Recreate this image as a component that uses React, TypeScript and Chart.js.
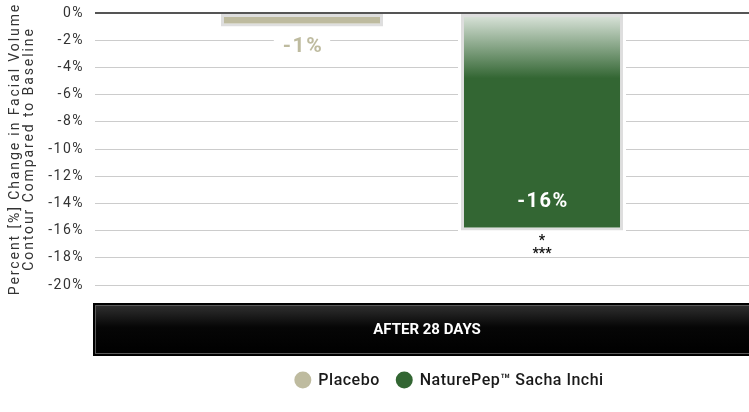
import React, { useEffect, useRef } from "react";
import { Chart, registerables } from "chart.js";

Chart.register(...registerables);

// ---- data ----
const categories = ["AFTER 28 DAYS"];
const seriesNames = ["Placebo", "NaturePep™ Sacha Inchi"];
const placeboValues = [-1];
const naturePepValues = [-16];
const valueLabels = ["-1%", "-16%"];
const significanceMarks = ["*", "***"];
const yMin = -20;
const yMax = 0;
const yStep = 2;
const yTitle = ["Percent [%] Change in Facial Volume", "Contour Compared to Baseline"];

// ---- style ----
const PLACEBO = "#bebb9f";
const GREEN = "#336633";
const GREEN_LIGHT = "#e0e8e0";
const BAR_BORDER = "#dedede";
const FONT = "Roboto, 'Noto Sans', sans-serif";

const setSpacing = (ctx: any, v: string) => {
  if ("letterSpacing" in ctx) ctx.letterSpacing = v;
};

const customPlugin = {
  id: "customDraw",
  beforeDraw(chart: any) {
    setSpacing(chart.ctx, "1.5px");
  },
  beforeDatasetsDraw(chart: any) {
    const ctx = chart.ctx;
    ctx.save();
    ctx.fillStyle = "#ffffff";
    chart.data.datasets.forEach((_: any, i: number) => {
      chart.getDatasetMeta(i).data.forEach((bar: any) => {
        const top = Math.min(bar.y, bar.base);
        const bot = Math.max(bar.y, bar.base);
        ctx.fillRect(bar.x - bar.width / 2 - 3, top + 1, bar.width + 6, bot - top + 2);
      });
    });
    ctx.restore();
  },
  afterDatasetsDraw(chart: any) {
    const ctx = chart.ctx;
    const b0 = chart.getDatasetMeta(0).data[0];
    const b1 = chart.getDatasetMeta(1).data[0];
    ctx.save();
    setSpacing(ctx, "1.5px");
    // placebo label below bar
    ctx.font = `bold 21px ${FONT}`;
    ctx.textAlign = "center";
    ctx.textBaseline = "middle";
    const w0 = ctx.measureText(valueLabels[0]).width;
    ctx.fillStyle = "#ffffff";
    ctx.fillRect(b0.x - w0 / 2 - 8, b0.y + 9, w0 + 16, 20);
    ctx.fillStyle = PLACEBO;
    ctx.fillText(valueLabels[0], b0.x + 1, b0.y + 20);
    // green label inside bar
    ctx.fillStyle = "#ffffff";
    ctx.font = `bold 20px ${FONT}`;
    ctx.fillText(valueLabels[1], b1.x + 1, b1.y - 29);
    // significance marks
    setSpacing(ctx, "0px");
    ctx.fillStyle = "#111111";
    ctx.font = `bold 14px ${FONT}`;
    ctx.textBaseline = "alphabetic";
    significanceMarks.forEach((s, i) => {
      ctx.fillText(s, b1.x, b1.y + 14 + i * 13);
    });
    ctx.restore();
  },
  afterDraw(chart: any) {
    const ctx = chart.ctx;
    const area = chart.chartArea;
    ctx.save();
    setSpacing(ctx, "0px");

    // y axis title (two rotated lines)
    ctx.save();
    setSpacing(ctx, "1.9px");
    ctx.font = `14px ${FONT}`;
    ctx.fillStyle = "#333333";
    ctx.textAlign = "center";
    ctx.textBaseline = "middle";
    ctx.translate(15, (area.top + area.bottom) / 2);
    ctx.rotate(-Math.PI / 2);
    yTitle.forEach((line, i) => {
      ctx.fillText(line, 0, i * 14);
    });
    ctx.restore();

    // category band
    const x0 = area.left - 2;
    const x1 = chart.width + 12;
    const y0 = area.bottom + 18;
    const h = 53;
    ctx.fillStyle = "#000000";
    ctx.fillRect(x0, y0, x1 - x0, h);
    const g = ctx.createLinearGradient(0, y0 + 3, 0, y0 + h - 3);
    g.addColorStop(0, "#2e2e2e");
    g.addColorStop(0.45, "#060606");
    g.addColorStop(1, "#000000");
    ctx.fillStyle = g;
    ctx.fillRect(x0 + 3, y0 + 3, x1 - x0 - 6, h - 6);
    ctx.strokeStyle = "#5a5a5a";
    ctx.lineWidth = 1;
    ctx.strokeRect(x0 + 2.5, y0 + 2.5, x1 - x0 - 5, h - 5);
    ctx.fillStyle = "#ffffff";
    ctx.font = `bold 15px ${FONT}`;
    ctx.textAlign = "center";
    ctx.textBaseline = "middle";
    ctx.fillText(chart.data.labels[0], (x0 + x1) / 2, y0 + h / 2 + 1);

    // legend
    const legendY = 380;
    const r = 8.5;
    const gapCircleText = 7;
    const gapItems = 16;
    setSpacing(ctx, "0.5px");
    ctx.font = `500 16px ${FONT}`;
    const items = chart.data.datasets.map((ds: any, i: number) => ({
      label: ds.label,
      color: i === 0 ? PLACEBO : GREEN,
      w: ctx.measureText(ds.label).width,
    }));
    const total =
      items.reduce((s: number, it: any) => s + 2 * r + gapCircleText + it.w, 0) +
      gapItems * (items.length - 1);
    let x = 449 - total / 2;
    ctx.textAlign = "left";
    items.forEach((it: any) => {
      ctx.beginPath();
      ctx.arc(x + r, legendY, r, 0, Math.PI * 2);
      ctx.fillStyle = it.color;
      ctx.fill();
      ctx.fillStyle = "#1a1a1a";
      ctx.fillText(it.label, x + 2 * r + gapCircleText, legendY + 1);
      x += 2 * r + gapCircleText + it.w + gapItems;
    });
    ctx.restore();
    setSpacing(ctx, "0px");
  },
};

export default function App() {
  const canvasRef = useRef<HTMLCanvasElement | null>(null);

  useEffect(() => {
    document.body.style.margin = "0";
    const canvas = canvasRef.current;
    if (!canvas) return;
    const greenFill = (c: any) => {
      const chart = c.chart;
      const y = chart.scales && chart.scales.y;
      if (!chart.chartArea || !y) return GREEN;
      const g = chart.ctx.createLinearGradient(0, y.getPixelForValue(0), 0, y.getPixelForValue(-4.8));
      g.addColorStop(0, GREEN_LIGHT);
      g.addColorStop(1, GREEN);
      return g;
    };
    const chart = new Chart(canvas, {
      type: "bar",
      data: {
        labels: categories,
        datasets: [
          {
            label: seriesNames[0],
            data: placeboValues,
            backgroundColor: PLACEBO,
            borderColor: BAR_BORDER,
            borderWidth: 3,
            borderSkipped: false,
            categoryPercentage: 0.734,
            barPercentage: 0.675,
          },
          {
            label: seriesNames[1],
            data: naturePepValues,
            backgroundColor: greenFill,
            borderColor: BAR_BORDER,
            borderWidth: 3,
            borderSkipped: false,
            categoryPercentage: 0.734,
            barPercentage: 0.675,
          },
        ],
      },
      options: {
        animation: false,
        responsive: false,
        devicePixelRatio: 1,
        layout: { padding: { top: 13, bottom: 127, left: 0, right: 0 } },
        plugins: {
          legend: { display: false },
          tooltip: { enabled: false },
        },
        scales: {
          x: { display: false },
          y: {
            min: yMin,
            max: yMax,
            afterFit: (axis: any) => {
              axis.width = 95;
              axis.paddingTop = 0;
              axis.paddingBottom = 0;
            },
            border: { display: false },
            grid: {
              drawTicks: false,
              color: (c: any) => (c.tick && c.tick.value === 0 ? "#555555" : "#cccccc"),
              lineWidth: (c: any) => (c.tick && c.tick.value === 0 ? 2 : 1),
            },
            ticks: {
              stepSize: yStep,
              padding: 11,
              color: "#333333",
              font: { family: FONT, size: 14 },
              callback: (v: any) => `${v}%`,
            },
            title: { display: false },
          },
        },
      },
      plugins: [customPlugin],
    });
    return () => chart.destroy();
  }, []);

  return (
    <div style={{ width: 749, height: 412 }}>
      <canvas ref={canvasRef} width={749} height={412} style={{ display: "block" }} />
    </div>
  );
}
